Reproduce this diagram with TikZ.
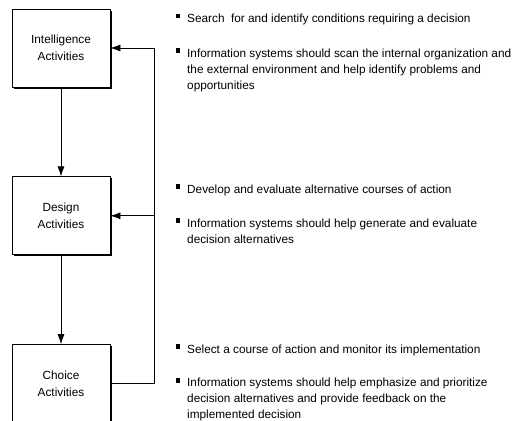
\documentclass[tikz,border=0pt]{standalone}
\usepackage{fontspec}
\setmainfont{Liberation Sans}
\usetikzlibrary{arrows.meta,positioning,shadows}

\begin{document}
\begin{tikzpicture}[x=1pt, y=-1pt, node distance=89pt, >={Latex[length=10pt,width=7pt]},
  every node/.style={font=\fontsize{11.8pt}{16pt}\selectfont},
  phase/.style={draw, line width=0.8pt, fill=white, align=center, minimum width=98pt, minimum height=78pt, inner sep=0pt,
    drop shadow={shadow xshift=1.5pt, shadow yshift=-1.5pt, fill=black, opacity=1},
    font=\fontsize{11.8pt}{17pt}\selectfont},
  sq/.style={fill=black, inner sep=0pt, minimum size=4.3pt},
  note/.style={anchor=base west, align=left, inner sep=0pt},
  link/.style={line width=0.8pt}]
\useasboundingbox (0,0) rectangle (515,421);
% the three phases
\node[phase] (intel) at (61,48) {Intelligence\\Activities};
\node[phase] (design) [below=of intel] {Design\\Activities};
\node[phase] (choice) [below=of design] {Choice\\Activities};
\draw[link,->] (intel) -- (design);
\draw[link,->] (design) -- (choice);
% feedback loop
\coordinate (fbx) at (154,0);
\draw[link,->] (choice.east) -| (fbx |- intel.east) -- (intel.east);
\draw[link,->] (fbx |- design.east) -- (design.east);
% notes (anchored on the baseline of their last line)
\node[sq] (s1) at (178,16) {};
\node[note] (t1) at (187,22.5) {Search\ \ for and identify conditions requiring a decision};
\node[sq] (s2) at (178,50.5) {};
\node[note] (t2) at (187,89) {Information systems should scan the internal organization and\\the external environment and help identify problems and\\opportunities};
\node[sq] (s3) at (178,186.5) {};
\node[note] (t3) at (187,193) {Develop and evaluate alternative courses of action};
\node[sq] (s4) at (178,220.5) {};
\node[note] (t4) at (187,243) {Information systems should help generate and evaluate\\decision alternatives};
\node[sq] (s5) at (178,346.5) {};
\node[note] (t5) at (187,353) {Select a course of action and monitor its implementation};
\node[sq] (s6) at (178,380.5) {};
\node[note] (t6) at (187,418.5) {Information systems should help emphasize and prioritize\\decision alternatives and provide feedback on the\\implemented decision};
\end{tikzpicture}
\end{document}
